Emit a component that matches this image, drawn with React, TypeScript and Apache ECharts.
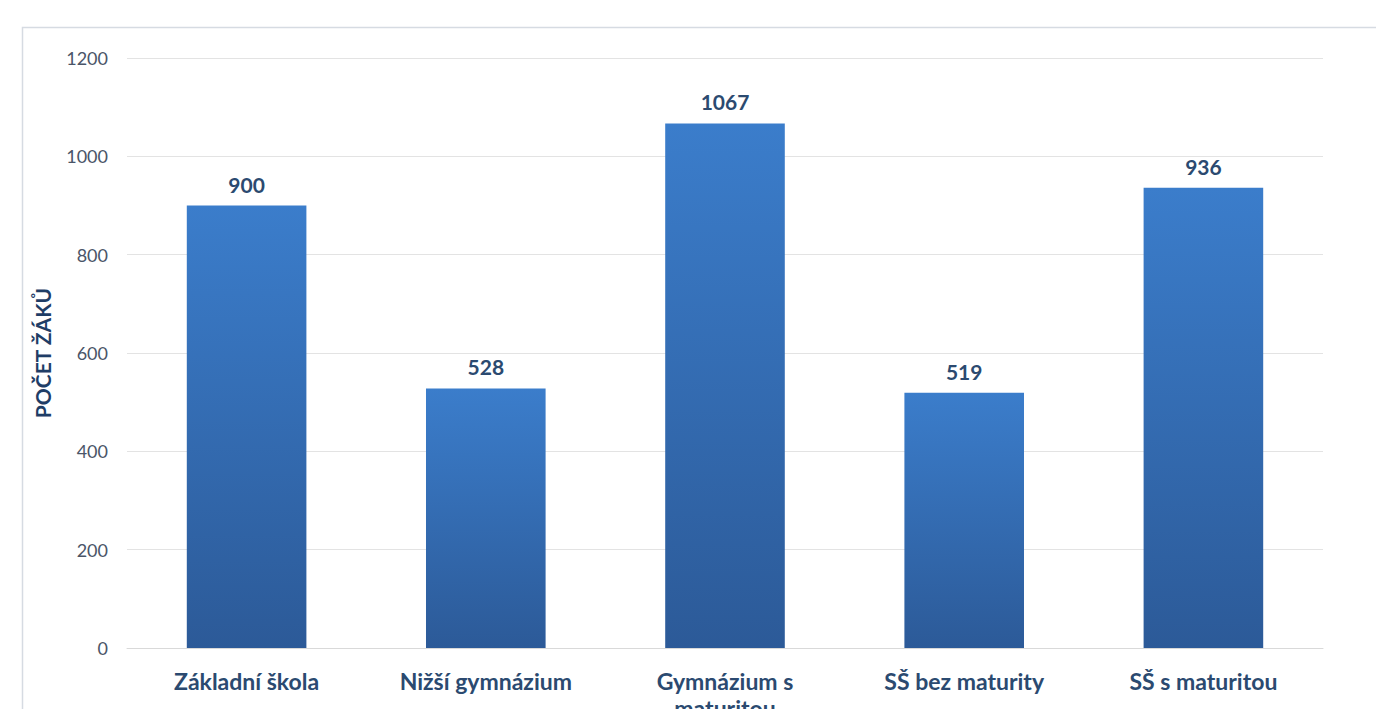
import React, { useEffect, useRef } from "react";
import * as echarts from "echarts";

const categories = ["Základní škola", "Nižší gymnázium", "Gymnázium s\nmaturitou", "SŠ bez maturity", "SŠ s maturitou"];
const values = [900, 528, 1067, 519, 936];
const yAxisName = "POČET ŽÁKŮ";
const yMin = 0;
const yMax = 1200;
const yInterval = 200;

export default function App() {
  const ref = useRef<HTMLDivElement>(null);
  useEffect(() => {
    if (!ref.current) return;
    const chart = echarts.init(ref.current, undefined, { renderer: "svg" });
    const font = "Lato, 'Open Sans', sans-serif";
    chart.setOption({
      animation: false,
      backgroundColor: "#ffffff",
      graphic: [
        {
          type: "polyline",
          shape: { points: [[22.5, 740], [22.5, 27.5], [1380, 27.5]] },
          style: { stroke: "#d6dbe2", lineWidth: 1.5, fill: "none" },
          silent: true,
        },
      ],
      grid: { left: 127, right: 53, top: 58, bottom: 61, containLabel: false, outerBoundsMode: "none" },
      xAxis: {
        type: "category",
        data: categories,
        axisLine: { show: true, lineStyle: { color: "#d9d9d9", width: 1 } },
        axisTick: { show: false },
        axisLabel: {
          color: "#2b4a70",
          fontFamily: font,
          fontWeight: "bold",
          fontSize: 23,
          margin: 19,
          lineHeight: 27,
          interval: 0,
        },
      },
      yAxis: {
        type: "value",
        min: yMin,
        max: yMax,
        interval: yInterval,
        name: yAxisName,
        nameLocation: "middle",
        nameGap: 74,
        nameRotate: 90,
        nameTextStyle: { color: "#1f3d66", fontFamily: font, fontWeight: "bold", fontSize: 21 },
        axisLine: { show: false },
        axisTick: { show: false },
        splitLine: { lineStyle: { color: "#e3e3e3", width: 1 } },
        axisLabel: {
          color: "#4a5568",
          fontFamily: font,
          fontSize: 18,
          margin: 19,
          formatter: (v: number) => String(v),
        },
      },
      series: [
        {
          type: "bar",
          data: values,
          barWidth: "50%",
          itemStyle: {
            color: new echarts.graphic.LinearGradient(0, 0, 0, 1, [
              { offset: 0, color: "#3b7dcb" },
              { offset: 1, color: "#2c5a98" },
            ]),
          },
          label: {
            show: true,
            position: "top",
            distance: 11,
            color: "#2b4a70",
            fontFamily: font,
            fontWeight: "bold",
            fontSize: 21,
          },
        },
      ],
    });
    return () => chart.dispose();
  }, []);
  return <div ref={ref} style={{ width: 1376, height: 709, position: "fixed", left: 0, top: 0 }} />;
}
